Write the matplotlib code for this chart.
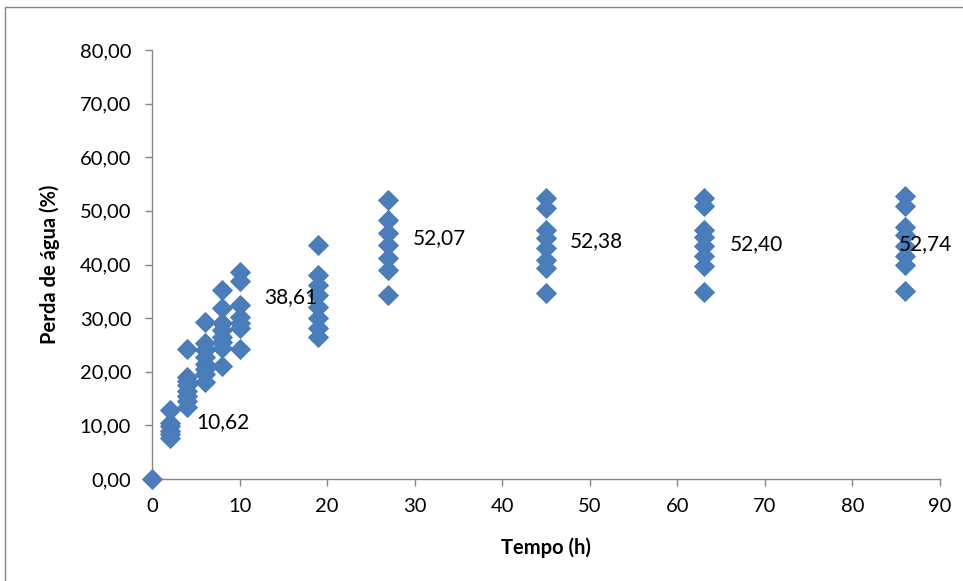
import numpy as np
import matplotlib.pyplot as plt
from matplotlib.patches import Rectangle

plt.rcParams['font.family'] = ['Lato', 'DejaVu Sans']

# tempo (h) and perda de agua (%), grouped per time
times = [0, 2, 4, 6, 8, 10, 19, 27, 45, 63, 86]
losses = [
    [0.0],
    [12.8, 10.5, 9.8, 9.0, 8.3, 7.6],
    [24.2, 19.0, 18.3, 17.5, 16.5, 15.5, 14.5, 13.5],
    [29.3, 25.3, 24.0, 22.8, 21.5, 20.5, 19.5, 18.0],
    [35.2, 31.8, 29.0, 27.8, 26.5, 25.5, 24.5, 21.0],
    [38.61, 37.0, 32.5, 30.3, 29.0, 28.2, 24.2],
    [43.6, 38.0, 36.2, 34.3, 32.1, 30.0, 28.2, 26.5],
    [52.07, 48.3, 45.9, 43.6, 41.2, 39.0, 34.3],
    [52.38, 50.5, 46.4, 45.0, 43.0, 40.8, 39.3, 34.7],
    [52.40, 51.0, 46.5, 45.2, 43.5, 41.5, 39.8, 34.8],
    [52.74, 51.0, 47.0, 45.5, 43.5, 41.5, 40.0, 35.0],
]

# labelled values: (x, y, text)
labels = [
    (5.0, 10.62, "10,62"),
    (12.8, 33.9, "38,61"),
    (29.8, 44.9, "52,07"),
    (47.7, 44.3, "52,38"),
    (66.0, 43.8, "52,40"),
    (85.3, 43.8, "52,74"),
]

xs = np.concatenate([[t] * len(v) for t, v in zip(times, losses)])
ys = np.concatenate(losses)

fig = plt.figure(figsize=(9.63, 5.81), dpi=100)
ax = fig.add_axes([152 / 963, 1 - 479 / 581, (940 - 152) / 963, (479 - 50) / 581])

ax.plot(xs, ys, linestyle='none', marker='D', markersize=10,
        markerfacecolor='#4A7EBB', markeredgecolor='#4678B4', markeredgewidth=0.6,
        clip_on=False, zorder=3)

for x, y, txt in labels:
    ax.text(x, y, txt, fontsize=15, va='center', ha='left', color='black', zorder=4)

ax.set_xlim(0, 90)
ax.set_ylim(0, 80)
ax.set_xticks(np.arange(0, 91, 10))
ax.set_yticks(np.arange(0, 81, 10))
ax.set_yticklabels([f"{v:.2f}".replace('.', ',') for v in np.arange(0, 81, 10)])

for side in ['top', 'right']:
    ax.spines[side].set_visible(False)
for side in ['left', 'bottom']:
    ax.spines[side].set_color('#868686')
    ax.spines[side].set_linewidth(1.0)

ax.tick_params(axis='both', colors='#868686', labelcolor='black', labelsize=14.5,
               length=5, width=1.0, direction='out')
ax.tick_params(axis='y', pad=10)
ax.tick_params(axis='x', pad=9)

ax.set_xlabel("Tempo (h)", fontsize=14.5, fontweight='bold', labelpad=16)
ax.set_ylabel("Perda de água (%)", fontsize=14.5, fontweight='bold', labelpad=14)

# chart area border
fig.patches.append(Rectangle((5 / 963, -0.2), 1.2, 1.2 - 7 / 581,
                             transform=fig.transFigure, fill=False,
                             edgecolor='#868686', linewidth=1.0))

fig.savefig("out.png", dpi=100)
